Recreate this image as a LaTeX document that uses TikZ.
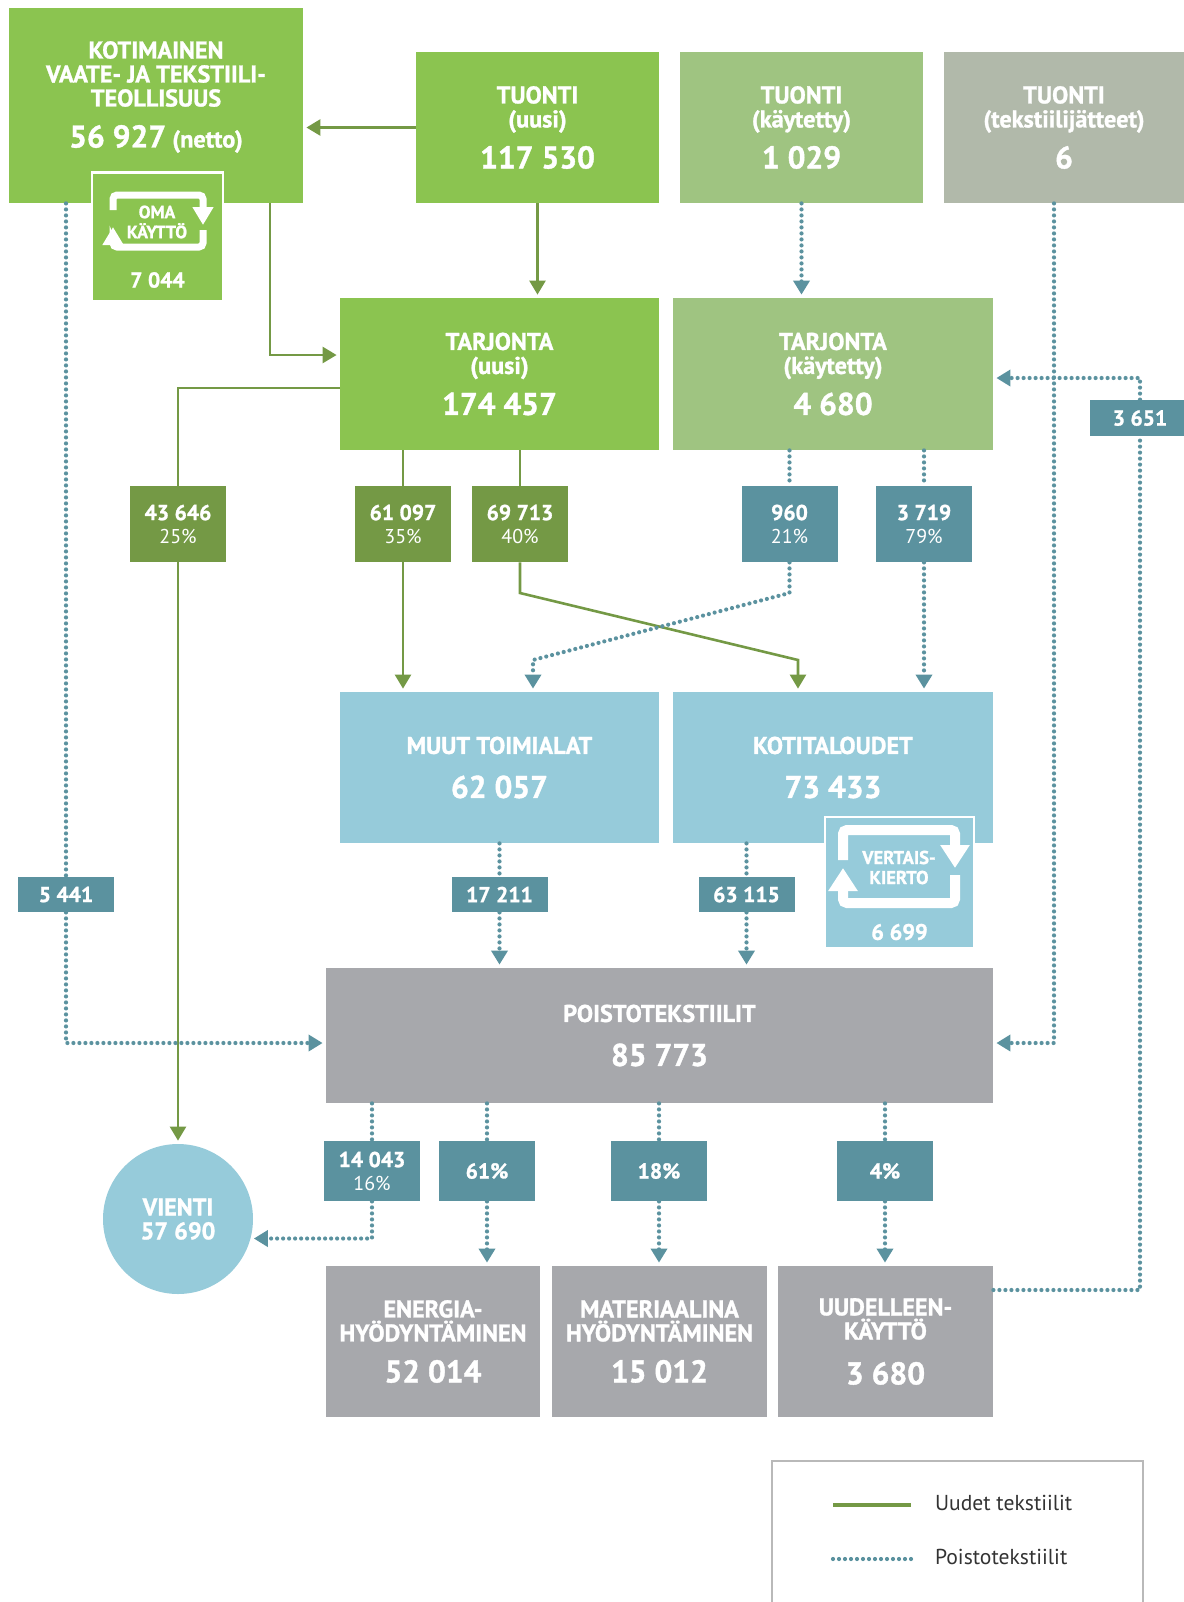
\documentclass[tikz,border=0pt]{standalone}
\usepackage{fontspec}
\setmainfont{PT Sans}[BoldFeatures={FakeBold=1.2}]
\usetikzlibrary{arrows.meta, calc}

\definecolor{vihrea}{RGB}{139,196,80}
\definecolor{vaalvihrea}{RGB}{159,196,129}
\definecolor{harmaavihrea}{RGB}{177,185,170}
\definecolor{tummavihrea}{RGB}{116,153,69}
\definecolor{petrooli}{RGB}{91,146,159}
\definecolor{vaalsininen}{RGB}{150,203,218}
\definecolor{harmaa}{RGB}{167,168,172}
\definecolor{tumma}{RGB}{51,51,51}

\setlength{\lineskiplimit}{-20pt}
\newcommand{\luku}[1]{{\fontsize{15.7}{12}\selectfont #1}}
\newcommand{\osuus}[1]{{\mdseries\fontsize{10}{11.5}\selectfont #1}}

\begin{document}
\begin{tikzpicture}[x=0.5pt, y=-0.5pt,
    >={Triangle[width=8pt,length=7pt]},
    laatikko/.style={rectangle, inner sep=0pt, text=white, align=center,
      font=\bfseries\fontsize{12.1}{12}\selectfont},
    koko/.style 2 args={minimum width=#1, minimum height=#2},
    lappu/.style={rectangle, inner sep=0pt, minimum width=48pt, text=white, align=center,
      font=\bfseries\fontsize{10.8}{11.5}\selectfont},
    uusiviiva/.style={tummavihrea, line width=1.3pt},
    poistoviiva/.style={petrooli, line width=2.1pt, line cap=round, dash pattern=on 0pt off 3pt},
    nuoli/.style={->, shorten >=1.5pt},
    ikoni/.style={white, rounded corners=2pt}]

  \useasboundingbox (0,0) rectangle (1184,1602);

  % ylarivi
  \node[laatikko, fill=vihrea, koko={147pt}{97.5pt}] (koti) at (156,105.5) {};
  \node[laatikko] (kotiTeksti) at (156,97) {KOTIMAINEN\\VAATE- JA TEKSTIILI-\\TEOLLISUUS\\[8.5pt]\luku{56 927} (netto)};
  \node[laatikko, fill=vihrea, koko={121.5pt}{75.5pt}] (tuonU) at (537.5,127.5) {TUONTI\\(uusi)\\[8.5pt]\luku{117 530}};
  \node[laatikko, fill=vaalvihrea, koko={121.5pt}{75.5pt}] (tuonK) at (801.5,127.5) {TUONTI\\(käytetty)\\[8.5pt]\luku{1 029}};
  \node[laatikko, fill=harmaavihrea, koko={120pt}{75.5pt}] (tuonJ) at (1064,127.5) {TUONTI\\(tekstiilijätteet)\\[8.5pt]\luku{6}};

  % oma kaytto
  \node[draw=white, line width=1.2pt, fill=vihrea, koko={65.5pt}{64.5pt}] (oma) at (157.5,237) {};
  \node[laatikko, font=\bfseries\fontsize{8.8}{10}\selectfont] (omaTeksti) at (157,222) {OMA\\KÄYTTÖ};
  \node[laatikko, font=\bfseries\fontsize{10.8}{12}\selectfont] (omaLuku) at (157.5,280) {7 044};
  \draw[ikoni, line width=3.5pt, -{Triangle[width=10pt,length=9pt]}] (113,210) -- (113,195) -- (203,195) -- (203,225);
  \draw[ikoni, line width=3.5pt, -{Triangle[width=10pt,length=9pt]}] (203,230) -- (203,247) -- (113,247) -- (113,227);

  % tarjonta
  \node[laatikko, fill=vihrea, koko={159.5pt}{76pt}] (tarjU) at (499.5,374) {TARJONTA\\(uusi)\\[8.5pt]\luku{174 457}};
  \node[laatikko, fill=vaalvihrea, koko={160pt}{76pt}] (tarjK) at (833,374) {TARJONTA\\(käytetty)\\[8.5pt]\luku{4 680}};

  \node[lappu, fill=tummavihrea, minimum height=38pt] (l43646) at (178,524) {43 646\\\osuus{25\%}};
  \node[lappu, fill=tummavihrea, minimum height=38pt] (l61097) at (403,524) {61 097\\\osuus{35\%}};
  \node[lappu, fill=tummavihrea, minimum height=38pt] (l69713) at (520,524) {69 713\\\osuus{40\%}};
  \node[lappu, fill=petrooli, minimum height=38pt] (l960) at (789.5,524) {960\\\osuus{21\%}};
  \node[lappu, fill=petrooli, minimum height=38pt] (l3719) at (924,524) {3 719\\\osuus{79\%}};
  \node[lappu, fill=petrooli, minimum width=50pt, minimum height=18pt] (l3651) at (1140,418) {3 651};

  % kulutus
  \node[laatikko, fill=vaalsininen, koko={159.5pt}{75.5pt}] (muut) at (499.5,767.5) {MUUT TOIMIALAT\\[10pt]\luku{62 057}};
  \node[laatikko, fill=vaalsininen, koko={160pt}{75.5pt}] (kotiT) at (833,767.5) {KOTITALOUDET\\[10pt]\luku{73 433}};
  \node[draw=white, line width=1.2pt, fill=vaalsininen, koko={74.5pt}{65.5pt}] (vertais) at (899.5,882.5) {};
  \node[laatikko, font=\bfseries\fontsize{9.3}{10}\selectfont] (vertaisTeksti) at (899,867.5) {VERTAIS-\\KIERTO};
  \node[laatikko, font=\bfseries\fontsize{11.2}{12}\selectfont] (vertaisLuku) at (899.5,932) {6 699};
  \draw[ikoni, line width=5pt, -{Triangle[width=14pt,length=11.5pt]}] (843,860) -- (843,830) -- (955,830) -- (955,868);
  \draw[ikoni, line width=5pt, -{Triangle[width=14pt,length=11.5pt]}] (955,875) -- (955,903) -- (843,903) -- (843,868);

  \node[lappu, fill=petrooli, minimum height=17.5pt] (l5441) at (66,894.5) {5 441};
  \node[lappu, fill=petrooli, minimum height=17.5pt] (l17211) at (499.5,894.5) {17 211};
  \node[lappu, fill=petrooli, minimum height=17.5pt] (l63115) at (746.5,894.5) {63 115};

  % poistotekstiilit
  \node[laatikko, fill=harmaa, koko={333.5pt}{67.5pt}] (poisto) at (659.5,1035.5) {POISTOTEKSTIILIT\\[10pt]\luku{85 773}};

  \node[lappu, fill=petrooli, minimum height=30pt] (l14043) at (372,1171) {14 043\\\osuus{16\%}};
  \node[lappu, fill=petrooli, minimum height=30pt] (l61) at (487,1171) {61\%};
  \node[lappu, fill=petrooli, minimum height=30pt] (l18) at (659,1171) {18\%};
  \node[lappu, fill=petrooli, minimum height=30pt] (l4) at (885,1171) {4\%};

  \node[circle, fill=vaalsininen, minimum size=75pt, inner sep=0pt, text=white, align=center,
    font=\bfseries\fontsize{12.1}{12}\selectfont] (vienti) at (178,1219) {VIENTI\\57 690};

  \node[laatikko, fill=harmaa, koko={107pt}{75.5pt}] (energia) at (433,1341.5) {ENERGIA-\\HYÖDYNTÄMINEN\\[8.5pt]\luku{52 014}};
  \node[laatikko, fill=harmaa, koko={107.5pt}{75.5pt}] (materiaali) at (659.5,1341.5) {MATERIAALINA\\HYÖDYNTÄMINEN\\[8.5pt]\luku{15 012}};
  \node[laatikko, fill=harmaa, koko={107.5pt}{75.5pt}] (uudelleen) at (885.5,1341.5) {UUDELLEEN-\\KÄYTTÖ\\[10.5pt]\luku{3 680}};

  % uudet tekstiilit
  \coordinate (v1) at (520,593);
  \coordinate (v2) at (798,660);
  \draw[uusiviiva, nuoli] (tuonU.west) -- (koti.east |- tuonU.west);
  \draw[uusiviiva, nuoli] (tuonU.south) -- (tuonU.south |- tarjU.north);
  \draw[uusiviiva, nuoli] ([xshift=57pt]koti.south) |- ([yshift=9.5pt]tarjU.west);
  \draw[uusiviiva] ([yshift=-7pt]tarjU.west) -| (l43646);
  \draw[uusiviiva, nuoli] (l43646) -- (vienti);
  \draw[uusiviiva] (tarjU.south -| l61097) -- (l61097);
  \draw[uusiviiva, nuoli] (l61097) -- (l61097 |- muut.north);
  \draw[uusiviiva] (tarjU.south -| l69713) -- (l69713);
  \draw[uusiviiva, nuoli] (l69713) -- (v1) -- (v2) -- (v2 |- kotiT.north);

  % poistotekstiilit
  \coordinate (p1) at (789.5,593);
  \coordinate (p2) at (533,660);
  \draw[poistoviiva, nuoli] (tuonK.south) -- (tuonK.south |- tarjK.north);
  \draw[poistoviiva] (tarjK.south -| l960) -- (l960);
  \draw[poistoviiva, nuoli] (l960) -- (p1) -- (p2) -- (p2 |- muut.north);
  \draw[poistoviiva] (tarjK.south -| l3719) -- (l3719);
  \draw[poistoviiva, nuoli] (l3719) -- (l3719 |- kotiT.north);
  \draw[poistoviiva] (koti.south -| l5441) -- (l5441);
  \draw[poistoviiva, nuoli] (l5441) |- ([yshift=-3.75pt]poisto.west);
  \draw[poistoviiva] (muut.south -| l17211) -- (l17211);
  \draw[poistoviiva, nuoli] (l17211) -- (l17211 |- poisto.north);
  \draw[poistoviiva] (kotiT.south -| l63115) -- (l63115);
  \draw[poistoviiva, nuoli] (l63115) -- (l63115 |- poisto.north);
  \draw[poistoviiva, nuoli] ([xshift=-5pt]tuonJ.south) |- ([yshift=-3.75pt]poisto.east);
  \draw[poistoviiva] ([yshift=25.75pt]uudelleen.east) -| (l3651);
  \draw[poistoviiva, nuoli] (l3651) |- ([yshift=-2pt]tarjK.east);
  \draw[poistoviiva] (poisto.south -| l14043) -- (l14043);
  \draw[poistoviiva, nuoli] (l14043) |- (vienti.-15);
  \draw[poistoviiva] (poisto.south -| l61) -- (l61);
  \draw[poistoviiva, nuoli] (l61) -- (l61 |- energia.north);
  \draw[poistoviiva] (poisto.south -| l18) -- (l18);
  \draw[poistoviiva, nuoli] (l18) -- (l18 |- materiaali.north);
  \draw[poistoviiva] (poisto.south -| l4) -- (l4);
  \draw[poistoviiva, nuoli] (l4) -- (l4 |- uudelleen.north);

  % selite
  \draw[gray!55, line width=0.6pt] (772,1602) |- (1143,1461) -- (1143,1602);
  \coordinate (seliteU1) at (833,1505);
  \coordinate (seliteU2) at (911,1505);
  \coordinate (seliteP1) at (833,1559);
  \coordinate (seliteP2) at (911,1559);
  \draw[uusiviiva, line width=2pt] (seliteU1) -- (seliteU2);
  \draw[poistoviiva] (seliteP1) -- (seliteP2);
  \node[anchor=west, text=tumma, font=\fontsize{10.8}{12}\selectfont] (seliteUteksti) at (928,1503) {Uudet tekstiilit};
  \node[anchor=west, text=tumma, font=\fontsize{10.8}{12}\selectfont] (selitePteksti) at (928,1557) {Poistotekstiilit};
\end{tikzpicture}
\end{document}
